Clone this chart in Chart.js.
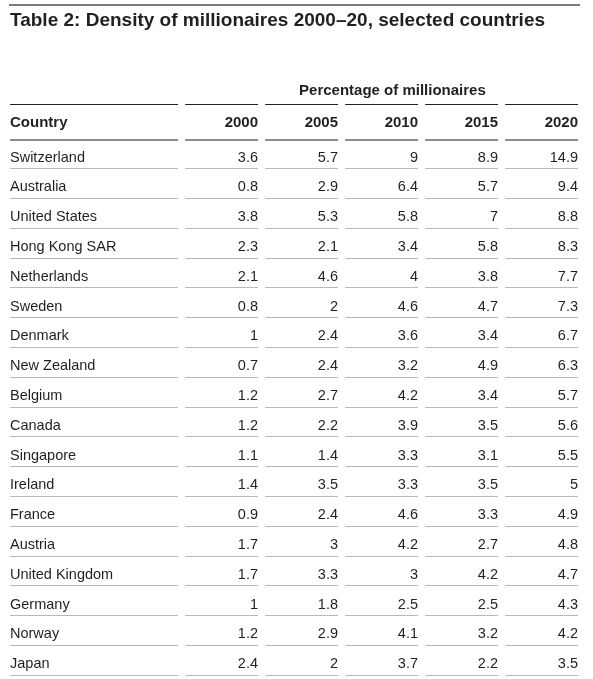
<!DOCTYPE html>
<html>
<head>
<meta charset="utf-8">
<script src="https://cdn.jsdelivr.net/npm/chart.js@4"></script>
<style>
  body { margin: 0; background: #fff; }
  canvas { display: block; }
</style>
</head>
<body>
<canvas id="myChart" width="593" height="679"></canvas>
<script>
// Table data
const countries = [
  "Switzerland", "Australia", "United States", "Hong Kong SAR", "Netherlands",
  "Sweden", "Denmark", "New Zealand", "Belgium", "Canada", "Singapore",
  "Ireland", "France", "Austria", "United Kingdom", "Germany", "Norway", "Japan",
];
const years = ["2000", "2005", "2010", "2015", "2020"];
const v2000 = [3.6, 0.8, 3.8, 2.3, 2.1, 0.8, 1, 0.7, 1.2, 1.2, 1.1, 1.4, 0.9, 1.7, 1.7, 1, 1.2, 2.4];
const v2005 = [5.7, 2.9, 5.3, 2.1, 4.6, 2, 2.4, 2.4, 2.7, 2.2, 1.4, 3.5, 2.4, 3, 3.3, 1.8, 2.9, 2];
const v2010 = [9, 6.4, 5.8, 3.4, 4, 4.6, 3.6, 3.2, 4.2, 3.9, 3.3, 3.3, 4.6, 4.2, 3, 2.5, 4.1, 3.7];
const v2015 = [8.9, 5.7, 7, 5.8, 3.8, 4.7, 3.4, 4.9, 3.4, 3.5, 3.1, 3.5, 3.3, 2.7, 4.2, 2.5, 3.2, 2.2];
const v2020 = [14.9, 9.4, 8.8, 8.3, 7.7, 7.3, 6.7, 6.3, 5.7, 5.6, 5.5, 5, 4.9, 4.8, 4.7, 4.3, 4.2, 3.5];
const title = "Table 2: Density of millionaires 2000\u201320, selected countries";
const groupLabel = "Percentage of millionaires";
const firstHeader = "Country";

const series = [v2000, v2005, v2010, v2015, v2020];

// column geometry in x-scale units (one unit = one year column pitch)
const countryRight = 2.1;
const colLeft = (k) => 2.19 + k;
const colRight = (k) => 3.1 + k;
const headerRow = -1.15;
const groupRow = -2.25;

const FONT = "'Liberation Sans', Arial, Helvetica, sans-serif";
const TEXT = "#231f20";

function hline(ctx, x, y, x0, x1, v, color, width) {
  const py = Math.round(y.getPixelForValue(v)) + (width % 2 ? 0.5 : 0);
  ctx.strokeStyle = color;
  ctx.lineWidth = width;
  ctx.beginPath();
  ctx.moveTo(x.getPixelForValue(x0), py);
  ctx.lineTo(x.getPixelForValue(x1), py);
  ctx.stroke();
}

// Draws rules and cell text at the positions of the (invisible) points
const tablePlugin = {
  id: "table",
  afterDatasetsDraw(chart) {
    const { ctx, scales: { x, y } } = chart;
    ctx.save();

    // top rule
    ctx.strokeStyle = "#7a7a7a";
    ctx.lineWidth = 2;
    ctx.beginPath();
    ctx.moveTo(x.getPixelForValue(0) - 1, 5);
    ctx.lineTo(x.getPixelForValue(colRight(4)) + 2, 5);
    ctx.stroke();

    // group header
    ctx.fillStyle = TEXT;
    ctx.font = "bold 15px " + FONT;
    ctx.textBaseline = "middle";
    ctx.textAlign = "center";
    ctx.fillText(groupLabel, x.getPixelForValue(4.78), y.getPixelForValue(groupRow));

    // rules under group header
    hline(ctx, x, y, 0, countryRight, -1.8, "#222", 1);
    years.forEach((yr, k) => hline(ctx, x, y, colLeft(k), colRight(k), -1.8, "#222", 1));

    // column header row
    ctx.textAlign = "left";
    ctx.fillText(firstHeader, x.getPixelForValue(0), y.getPixelForValue(headerRow));
    ctx.textAlign = "right";
    years.forEach((yr, k) => {
      ctx.fillText(yr, x.getPixelForValue(colRight(k)), y.getPixelForValue(headerRow));
    });
    hline(ctx, x, y, 0, countryRight, -0.6, "#8c8c8c", 2);
    years.forEach((yr, k) => hline(ctx, x, y, colLeft(k), colRight(k), -0.6, "#8c8c8c", 2));

    // body rows
    ctx.font = "14.5px " + FONT;
    chart.data.datasets.forEach((ds, di) => {
      const meta = chart.getDatasetMeta(di);
      ctx.textAlign = di === 0 ? "left" : "right";
      meta.data.forEach((pt, i) => {
        ctx.fillText(ds.cells[i], pt.x, pt.y);
      });
    });
    countries.forEach((c, i) => {
      hline(ctx, x, y, 0, countryRight, i + 0.36, "#b8b8b8", 1);
      years.forEach((yr, k) => hline(ctx, x, y, colLeft(k), colRight(k), i + 0.36, "#b8b8b8", 1));
    });

    ctx.restore();
  },
};

const datasets = [
  {
    label: firstHeader,
    data: countries.map((c, i) => ({ x: 0, y: i })),
    cells: countries,
    pointRadius: 0,
  },
].concat(
  series.map((vals, k) => ({
    label: years[k],
    data: vals.map((v, i) => ({ x: colRight(k), y: i })),
    cells: vals.map((v) => String(v)),
    pointRadius: 0,
  }))
);

const ctx = document.getElementById("myChart").getContext("2d");
const myChart = new Chart(ctx, {
  type: "scatter",
  data: { datasets: datasets },
  options: {
    responsive: false,
    animation: false,
    events: [],
    layout: { padding: { left: 10, right: 15, top: 0, bottom: 0 } },
    scales: {
      x: { type: "linear", display: false, min: 0, max: colRight(4) },
      y: { type: "linear", display: false, reverse: true, min: -3, max: 17.5 },
    },
    plugins: {
      legend: { display: false },
      tooltip: { enabled: false },
      title: {
        display: true,
        text: title,
        align: "start",
        color: TEXT,
        font: { family: FONT, size: 19, weight: "bold", lineHeight: 1.2 },
        padding: { top: 9.4, bottom: 35.9 },
      },
    },
  },
  plugins: [tablePlugin],
});
</script>
</body>
</html>
